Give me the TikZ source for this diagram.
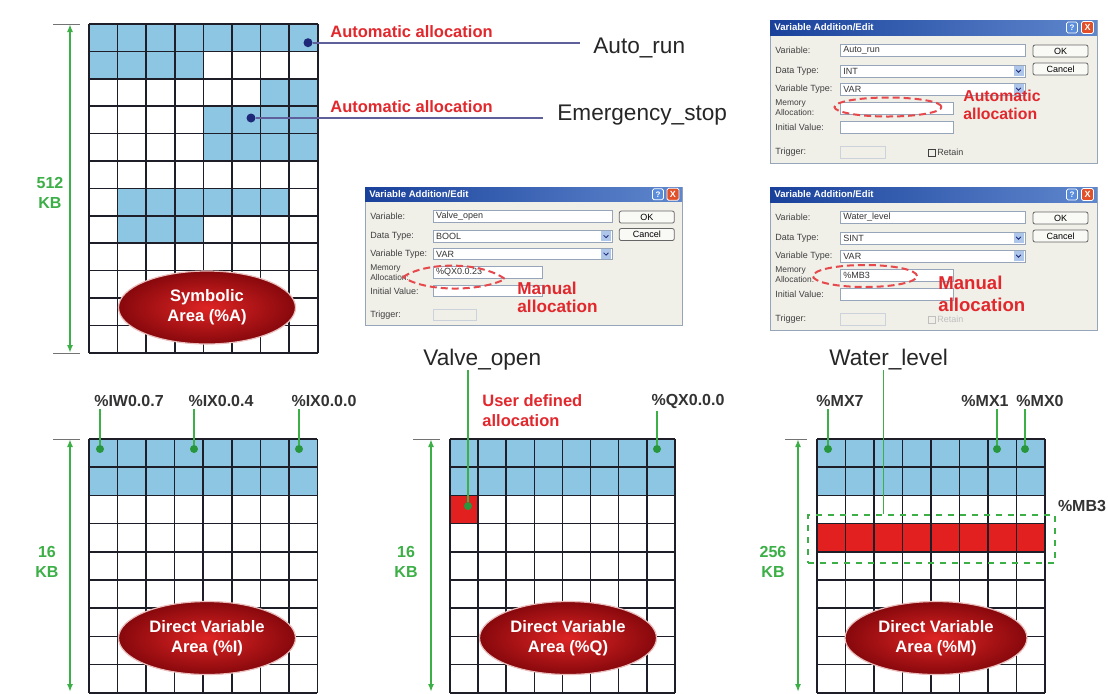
\documentclass[tikz,border=0pt]{standalone}
\usepackage{fontspec}
\setmainfont{Liberation Sans}
\usetikzlibrary{shapes.geometric,arrows.meta}

\definecolor{cellblue}{RGB}{140,198,226}
\definecolor{cellred}{RGB}{226,32,32}
\definecolor{gridc}{RGB}{30,30,40}
\definecolor{kbgreen}{RGB}{60,175,70}
\definecolor{dotgreen}{RGB}{40,150,60}
\definecolor{navy}{RGB}{30,40,120}
\definecolor{navyline}{RGB}{95,95,155}
\definecolor{txtred}{RGB}{225,40,45}
\definecolor{areain}{RGB}{222,36,36}
\definecolor{areaout}{RGB}{135,8,12}
\definecolor{arearim}{RGB}{235,190,190}
\definecolor{dlgbg}{RGB}{240,239,232}
\definecolor{fieldc}{RGB}{150,165,185}
\definecolor{ttlL}{RGB}{25,65,155}
\definecolor{ttlR}{RGB}{95,135,205}
\definecolor{helpc}{RGB}{90,140,220}
\definecolor{closec}{RGB}{225,80,40}
\definecolor{dropc}{RGB}{175,198,235}

% dialog box: variable, data type, memory allocation, retain colour, retain text
\newcommand{\vardlg}[5]{%
  \draw[fieldc, fill=dlgbg] (0,0) rectangle (327,143);
  \shade[left color=ttlL, right color=ttlR] (0,0) rectangle (327,15);
  \node[dlgtitle] (title) at (4,7.5) {Variable Addition/Edit};
  \node[helpbtn] (help) at (302,7.5) {?};
  \node[closebtn] (close) at (317.5,7.5) {X};
  \node[dlglbl] (lvar) at (5,30) {Variable:};
  \node[dlglbl] (ldt) at (5,51) {Data Type:};
  \node[dlglbl] (lvt) at (5,69) {Variable Type:};
  \node[dlglbl, align=left, font=\fontsize{4.2}{3.8}\selectfont] (lmem) at (5,88) {Memory\\Allocation:};
  \node[dlglbl] (linit) at (5,107) {Initial Value:};
  \node[dlglbl] (ltrig) at (5,132) {Trigger:};
  \draw[dlgfield] (70,24) rectangle (255,36);
  \node[dlgval] (vvar) at (73,30) {#1};
  \draw[dlgfield] (70,45) rectangle (255,57);
  \node[dlgval] (vdt) at (73,51) {#2};
  \node[dropbtn] (dd1) at (248.5,51) {};
  \draw[dlgfield] (70,63) rectangle (255,75);
  \node[dlgval] (vvt) at (73,69) {VAR};
  \node[dropbtn] (dd2) at (248.5,69) {};
  \draw[dlgfield] (70,82) rectangle (183,94);
  \node[dlgval] (vmem) at (73,88) {#3};
  \draw[dlgfield] (70,101) rectangle (183,113);
  \draw[dlgfield, fill=dlgbg, draw=fieldc!50] (70,126) rectangle (115,138);
  \node[dlgbtn] (ok) at (290.5,31) {OK};
  \node[dlgbtn] (cancel) at (290.5,49) {Cancel};
  \draw[#4] (158,129) rectangle (165,136);
  \node[dlglbl, text=#4] (retain) at (167,132.5) {#5};
}

\begin{document}
\begin{tikzpicture}[x=0.5pt, y=-0.5pt,
  gridline/.style={draw=gridc, line width=0.8pt},
  dimarrow/.style={draw=kbgreen, line width=0.8pt, {Latex[length=4pt,width=3pt]}-{Latex[length=4pt,width=3pt]}},
  tickline/.style={draw=black!55, line width=0.5pt},
  kbtxt/.style={text=kbgreen, font=\fontsize{8}{10}\selectfont\bfseries, align=center, inner sep=0},
  area/.style={ellipse, inner color=areain, outer color=areaout, draw=arearim, line width=0.6pt,
    minimum width=88.5pt, minimum height=36.5pt, text=white,
    font=\fontsize{8.3}{10}\selectfont\bfseries, align=center, inner sep=0},
  bigtxt/.style={font=\fontsize{11.3}{13}\selectfont, text=black!85, inner sep=0, anchor=base west},
  alloc/.style={text=txtred, font=\fontsize{8.25}{10}\selectfont\bfseries, inner sep=0, anchor=west, align=left},
  addr/.style={text=black!80, font=\fontsize{8}{10}\selectfont\bfseries, inner sep=1pt},
  navydot/.style={circle, fill=navy, inner sep=0, minimum size=4.5pt},
  greendot/.style={circle, fill=dotgreen, inner sep=0, minimum size=4pt},
  navylink/.style={draw=navyline, line width=0.8pt},
  greenlink/.style={draw=kbgreen, line width=0.8pt},
  mbbox/.style={draw=kbgreen, dashed, line width=0.6pt, minimum width=123.5pt, minimum height=24pt, inner sep=0},
  reddash/.style={draw=txtred!85, line width=1pt, dash pattern=on 3.5pt off 2pt},
  dlgred/.style={text=txtred, inner sep=0, anchor=west, align=left},
  dlgtitle/.style={anchor=west, inner sep=0, text=white, font=\fontsize{4.8}{5}\selectfont\bfseries},
  dlglbl/.style={anchor=west, inner sep=0, text=black!75, font=\fontsize{4.5}{5}\selectfont},
  dlgval/.style={anchor=west, inner sep=0, text=black!80, font=\fontsize{4.5}{5}\selectfont},
  dlgfield/.style={draw=fieldc, fill=white, line width=0.4pt},
  dlgbtn/.style={draw=black!60, fill=white!60!dlgbg, minimum width=27.5pt, minimum height=6pt,
    rounded corners=1pt, inner sep=0, font=\fontsize{4.5}{5}\selectfont},
  helpbtn/.style={draw=white, fill=helpc, minimum size=5.5pt, inner sep=0, rounded corners=0.8pt,
    text=white, font=\fontsize{4}{4}\selectfont\bfseries},
  closebtn/.style={draw=white, fill=closec, minimum size=6pt, inner sep=0, rounded corners=0.8pt,
    text=white, font=\fontsize{4.5}{4}\selectfont\bfseries},
  dropbtn/.style={fill=dropc, minimum size=5pt, inner sep=0,
    path picture={\draw[navy, line width=0.4pt]
      ([shift={(-1.2pt,0.6pt)}]path picture bounding box.center) --
      ([shift={(0pt,-0.6pt)}]path picture bounding box.center) --
      ([shift={(1.2pt,0.6pt)}]path picture bounding box.center);}}]

\useasboundingbox (0,0) rectangle (1108,693);
\fill[white] (0,0) rectangle (1108,693);

% symbolic area
\begin{scope}[shift={(89,24)}, x=14.3pt, y=-13.7pt]
  \foreach \ca/\ra/\cb/\rb in {0/0/8/1, 0/1/4/2, 6/2/8/3, 4/3/8/5, 1/6/7/7, 1/7/4/8}
    \fill[cellblue] (\ca,\ra) rectangle (\cb,\rb);
  \foreach \i in {0,...,8} \draw[gridline] (\i,0) -- (\i,12);
  \foreach \j in {0,...,12} \draw[gridline] (0,\j) -- (8,\j);
\end{scope}

% direct variable areas
\begin{scope}[shift={(89,439)}, x=14.275pt, y=-14.1pt]
  \fill[cellblue] (0,0) rectangle (8,2);
  \foreach \i in {0,...,8} \draw[gridline] (\i,0) -- (\i,9);
  \foreach \j in {0,...,9} \draw[gridline] (0,\j) -- (8,\j);
\end{scope}
\begin{scope}[shift={(450,439)}, x=14.05pt, y=-14.1pt]
  \fill[cellblue] (0,0) rectangle (8,2);
  \fill[cellred] (0,2) rectangle (1,3);
  \foreach \i in {0,...,8} \draw[gridline] (\i,0) -- (\i,9);
  \foreach \j in {0,...,9} \draw[gridline] (0,\j) -- (8,\j);
\end{scope}
\begin{scope}[shift={(817,439)}, x=14.25pt, y=-14.1pt]
  \fill[cellblue] (0,0) rectangle (8,2);
  \fill[cellred] (0,3) rectangle (8,4);
  \foreach \i in {0,...,8} \draw[gridline] (\i,0) -- (\i,9);
  \foreach \j in {0,...,9} \draw[gridline] (0,\j) -- (8,\j);
\end{scope}

\node[area] (symA) at (207,307.5) {Symbolic\\Area (\%A)};
\node[area] (dirI) at (207,638) {Direct Variable\\Area (\%I)};
\node[area] (dirQ) at (568,638) {Direct Variable\\Area (\%Q)};
\node[area, minimum width=91pt] (dirM) at (936,638) {Direct Variable\\Area (\%M)};

% sizes
\draw[tickline] (53,24) -- (80,24);
\draw[tickline] (53,353) -- (80,353);
\draw[dimarrow] (70,24) -- (70,353);
\node[kbtxt] (kb512) at (50,193) {512\\KB};

\draw[tickline] (53,439) -- (80,439);
\draw[dimarrow] (70,439) -- (70,692);
\node[kbtxt] (kbI) at (47,562) {16\\KB};

\draw[tickline] (413,439) -- (440,439);
\draw[dimarrow] (431,439) -- (431,692);
\node[kbtxt] (kbQ) at (406,562) {16\\KB};

\draw[tickline] (785,439) -- (807,439);
\draw[dimarrow] (798,439) -- (798,692);
\node[kbtxt] (kbM) at (773,562) {256\\KB};

% symbolic variables
\node[alloc] (alloc1) at (330,31.7) {Automatic allocation};
\node[alloc] (alloc2) at (330,107) {Automatic allocation};
\node[bigtxt] (autorun) at (593,53) {Auto\_run};
\node[bigtxt] (estop) at (557,120) {Emergency\_stop};
\node[navydot] (d1) at (308,42.7) {};
\node[navydot] (d2) at (251,118) {};
\draw[navylink, shorten >=6.5pt] (d1) -- (d1 -| autorun.west);
\draw[navylink, shorten >=7pt] (d2) -- (d2 -| estop.west);

% input area
\node[addr] (iw07) at (129,401) {\%IW0.0.7};
\node[addr] (ix04) at (221,401) {\%IX0.0.4};
\node[addr] (ix00) at (324,401) {\%IX0.0.0};
\node[greendot] (g1) at (100,449) {};
\node[greendot] (g2) at (194,449) {};
\node[greendot] (g3) at (299,449) {};
\draw[greenlink] (g1 |- iw07.south) -- (g1);
\draw[greenlink] (g2 |- ix04.south) -- (g2);
\draw[greenlink] (g3 |- ix00.south) -- (g3);

% output area
\node[bigtxt] (valve) at (423,365) {Valve\_open};
\node[alloc] (userdef) at (482,411) {User defined\\allocation};
\node[addr] (qx00) at (688,401) {\%QX0.0.0};
\node[greendot] (g4) at (657,449) {};
\node[greendot] (g5) at (468,506) {};
\draw[greenlink] (g4 |- qx00.south) -- (g4);
\draw[greenlink] (g5 |- valve.south) -- (g5);

% memory area
\node[bigtxt] (water) at (829,365) {Water\_level};
\node[addr] (mx7) at (840,401) {\%MX7};
\node[addr] (mx1) at (985,401) {\%MX1};
\node[addr] (mx0) at (1040,401) {\%MX0};
\node[addr] (mb3) at (1082,506) {\%MB3};
\node[greendot] (g6) at (828,449) {};
\node[greendot] (g7) at (997,449) {};
\node[greendot] (g8) at (1025,449) {};
\draw[greenlink] (g6 |- mx7.south) -- (g6);
\draw[greenlink] (g7 |- mx1.south) -- (g7);
\draw[greenlink] (g8 |- mx0.south) -- (g8);
\node[mbbox] (mb3box) at (931.5,539) {};
\coordinate (wltop) at ([xshift=-2.5pt]water.south);
\draw[greenlink] (wltop) -- (wltop |- mb3box.north);

% dialogs
\begin{scope}[shift={(770,20)}, name prefix=dA-]
  \vardlg{Auto\_run}{INT}{}{black!75}{Retain}
\end{scope}
\begin{scope}[shift={(365,187)}, scale=0.97, name prefix=dB-]
  \vardlg{Valve\_open}{BOOL}{\%QX0.0.23}{dlgbg}{}
\end{scope}
\begin{scope}[shift={(770,187)}, name prefix=dC-]
  \vardlg{Water\_level}{SINT}{\%MB3}{black!25}{Retain}
\end{scope}

\node[reddash, ellipse, minimum width=53.5pt, minimum height=9.5pt, inner sep=0] (autoell) at (888,107) {};
\node[dlgred, font=\fontsize{7.9}{9}\selectfont\bfseries] (autolbl) at (963,105) {Automatic\\allocation};

\draw[reddash] (403,277) .. controls (425,262) and (480,261) .. (505,279)
  .. controls (480,292) and (425,292) .. (403,277);
\node[dlgred, font=\fontsize{8.6}{9}\selectfont\bfseries] (manlbl1) at (517,297) {Manual\\allocation};

\node[reddash, ellipse, minimum width=52pt, minimum height=11pt, inner sep=0] (manell) at (865,276) {};
\node[dlgred, font=\fontsize{9.3}{11}\selectfont\bfseries] (manlbl2) at (938,294) {Manual\\allocation};

\end{tikzpicture}
\end{document}
